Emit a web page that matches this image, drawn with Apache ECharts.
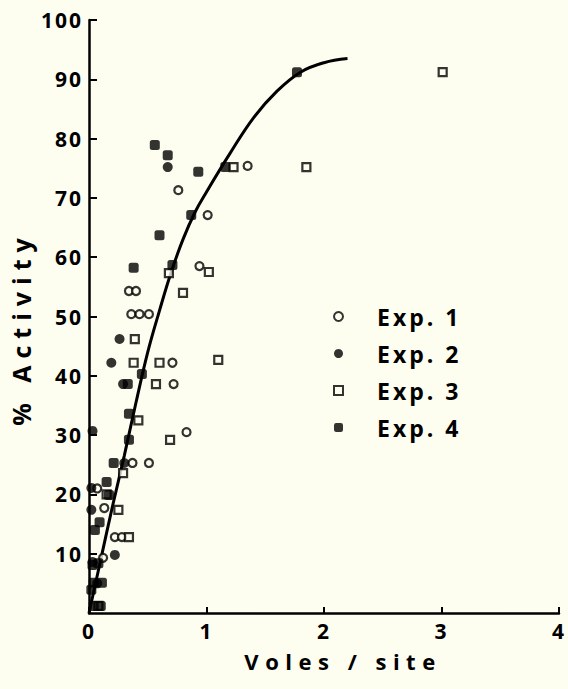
<!DOCTYPE html>
<html>
<head>
<meta charset="utf-8">
<script src="https://cdn.jsdelivr.net/npm/echarts@6/dist/echarts.min.js"></script>
<style>
  html, body { margin: 0; padding: 0; background: #fdfdf0; }
  #chart { width: 568px; height: 689px; }
  #chart text[style*="21px"] { letter-spacing: 2px; }
  #chart text[style*="22px"] { letter-spacing: 6.5px; }
  #chart text[style*="23px"] { letter-spacing: 3px; }
  #chart text[style*="25px"] { letter-spacing: 7px; }
</style>
</head>
<body>
<div id="chart"></div>
<script>
// ---- data ----
const xTicks = [0, 1, 2, 3, 4];
const yTicks = [10, 20, 30, 40, 50, 60, 70, 80, 90, 100];
const seriesNames = ['Exp. 1', 'Exp. 2', 'Exp. 3', 'Exp. 4'];

// Exp. 1 (open circles)  [voles/site, % activity]
const exp1 = [
  [1.35, 75.4], [0.76, 71.3], [1.01, 67.1], [0.94, 58.5],
  [0.34, 54.3], [0.40, 54.3], [0.36, 50.4], [0.43, 50.4], [0.51, 50.4],
  [0.71, 42.2], [0.72, 38.6], [0.83, 30.5], [0.37, 25.3], [0.51, 25.3],
  [0.13, 17.7], [0.22, 12.8], [0.28, 12.8], [0.12, 9.3], [0.07, 21.0]
];
// Exp. 2 (filled circles)
const exp2 = [
  [0.67, 75.2], [0.26, 46.2], [0.19, 42.2], [0.29, 38.6], [0.03, 30.7],
  [0.30, 25.3], [0.02, 21.1], [0.02, 17.4], [0.22, 9.8], [0.03, 8.6],
  [0.07, 5.0]
];
// Exp. 3 (open squares)
const exp3 = [
  [3.01, 91.2], [1.85, 75.2], [1.23, 75.2], [1.02, 57.5], [0.68, 57.3],
  [0.80, 54.0], [1.10, 42.7], [0.69, 29.2], [0.39, 46.2], [0.38, 42.2],
  [0.60, 42.2], [0.57, 38.6], [0.42, 32.5], [0.29, 23.6], [0.25, 17.4],
  [0.34, 12.8], [0.08, 1.2], [0.15, 20.0]
];
// Exp. 4 (filled squares)
const exp4 = [
  [1.77, 91.2], [0.56, 78.9], [0.67, 77.2], [0.93, 74.4], [1.16, 75.2],
  [0.87, 67.1], [0.60, 63.7], [0.71, 58.7], [0.38, 58.2], [0.45, 40.3],
  [0.33, 38.6], [0.34, 33.6], [0.34, 29.2], [0.21, 25.3], [0.15, 22.1],
  [0.17, 19.9], [0.05, 14.0], [0.09, 15.3], [0.08, 8.4], [0.03, 8.1],
  [0.11, 5.1], [0.04, 5.1], [0.04, 1.2], [0.10, 1.2], [0.02, 3.9]
];
// fitted curve, points
const curveX = [0, 0.1, 0.2, 0.3, 0.4, 0.5, 0.6, 0.7, 0.8, 0.9, 1.0, 1.2, 1.4, 1.6, 1.8, 2.0, 2.2];
const curveY = [0, 9, 18, 26.5, 35.5, 44, 51, 57.5, 63, 67.5, 71, 77.5, 83.5, 88, 91.2, 92.8, 93.5];

// ---- chart ----
const INK = '#000000';
const BG = '#fdfdf0';
const FONT = '"Open Sans", "DejaVu Sans", sans-serif';

const chart = echarts.init(document.getElementById('chart'), null, { renderer: 'svg' });

const curveData = curveX.map((x, i) => [x, curveY[i]]);

chart.setOption({
  backgroundColor: BG,
  animation: false,
  textStyle: { fontFamily: FONT, color: INK },
  grid: { left: 87, right: 6, top: 20, bottom: 76, containLabel: false },
  legend: {
    data: seriesNames,
    orient: 'vertical',
    left: 328,
    top: 300,
    itemWidth: 9,
    itemHeight: 9,
    itemGap: 14,
    textStyle: {
      fontFamily: FONT, fontSize: 23, fontWeight: 'bold', color: INK,
      lineHeight: 23, padding: [0, 0, 0, 29]
    }
  },
  xAxis: {
    type: 'value',
    min: 0, max: 4, interval: 1,
    name: 'Voles / site',
    nameLocation: 'middle',
    nameGap: 38,
    nameTextStyle: { fontFamily: FONT, fontSize: 22, fontWeight: 'bold', color: INK, lineHeight: 20, padding: [0, 0, 0, 38] },
    axisLine: { show: true, onZero: false, lineStyle: { color: INK, width: 2.5 } },
    axisTick: { show: true, inside: true, length: 6, lineStyle: { color: INK, width: 2 } },
    axisLabel: {
      margin: 9, fontFamily: FONT, fontSize: 21, fontWeight: 'bold', color: INK, lineHeight: 18,
      customValues: xTicks
    },
    splitLine: { show: false }
  },
  yAxis: {
    type: 'value',
    min: 0, max: 100, interval: 10,
    name: '% Activity',
    nameLocation: 'middle',
    nameRotate: 90,
    nameGap: 56,
    nameTextStyle: { fontFamily: FONT, fontSize: 25, fontWeight: 'bold', color: INK, padding: [0, 24, 0, 0] },
    axisLine: { show: true, onZero: false, lineStyle: { color: INK, width: 2.5 } },
    axisTick: { show: true, inside: true, length: 8, lineStyle: { color: INK, width: 2 } },
    axisLabel: {
      margin: 6, fontFamily: FONT, fontSize: 21, fontWeight: 'bold', color: INK,
      showMinLabel: false,
      formatter: v => (yTicks.indexOf(v) >= 0 ? String(v) : '')
    },
    splitLine: { show: false }
  },
  series: [
    {
      name: 'curve', type: 'line', data: curveData, smooth: 0.4,
      showSymbol: false, symbol: 'none',
      lineStyle: { color: INK, width: 3 }, z: 1
    },
    {
      name: seriesNames[0], type: 'scatter', data: exp1, symbol: 'circle', symbolSize: 8,
      itemStyle: { color: BG, borderColor: INK, borderWidth: 2.2 }, z: 3
    },
    {
      name: seriesNames[1], type: 'scatter', data: exp2, symbol: 'circle', symbolSize: 10,
      itemStyle: { color: INK, borderColor: INK, borderWidth: 0 }, z: 3
    },
    {
      name: seriesNames[2], type: 'scatter', data: exp3, symbol: 'rect', symbolSize: 8,
      itemStyle: { color: BG, borderColor: INK, borderWidth: 2.2 }, z: 3
    },
    {
      name: seriesNames[3], type: 'scatter', data: exp4, symbol: 'roundRect', symbolSize: 10,
      itemStyle: { color: INK, borderColor: INK, borderWidth: 0 }, z: 3
    }
  ]
});
</script>
</body>
</html>
